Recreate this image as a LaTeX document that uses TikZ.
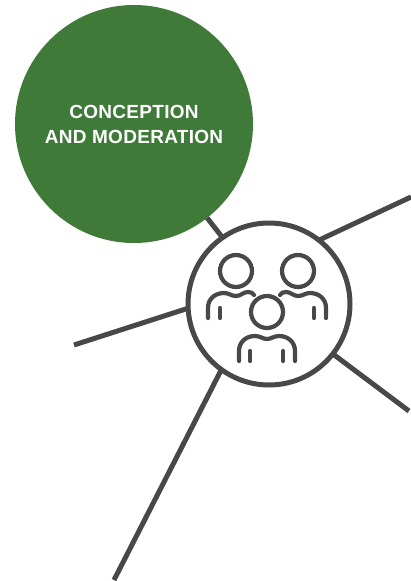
\documentclass[tikz,border=0pt]{standalone}
\usepackage{fontspec}
\setsansfont{Liberation Sans}
\definecolor{LeafGreen}{HTML}{3F7A38}
\definecolor{SlateInk}{HTML}{484848}
\newcommand{\DisplayFont}{\sffamily\bfseries\addfontfeature{LetterSpace=1.5}}
\tikzset{
  spoke/.style={SlateInk, line width=5pt},
  icon/.style={SlateInk, line width=4.2pt, line cap=round},
  hubring/.style={circle, draw=SlateInk, line width=5pt, fill=white, inner sep=0pt, outer sep=0pt, minimum size=162pt},
  greendisc/.style={circle, fill=LeafGreen, inner sep=0pt, outer sep=0pt, minimum size=238pt},
  disclabel/.style={text=white, align=center, font={\DisplayFont\fontsize{19pt}{25pt}\selectfont}},
  headring/.style={circle, draw=SlateInk, line width=4.2pt, inner sep=0pt, outer sep=0pt, minimum size=32pt}
}
\begin{document}
\begin{tikzpicture}[x=1pt, y=-1pt]
  \useasboundingbox (0,0) rectangle (411,581);
  % hub and the big disc
  \node[hubring] (hub) at (269,304) {};
  \node[greendisc] (conception) at (134,124) {};
  \node[disclabel] (conceptionlabel) at (134,124) {CONCEPTION\\AND MODERATION};
  % free ends
  \coordinate (endright) at (411,197);
  \coordinate (endleft) at (74,345);
  \coordinate (endlower) at (409,411);
  \coordinate (endbottom) at (114,580);
  % spokes
  \draw[spoke] (conception) -- (hub.125);
  \draw[spoke] (hub.52) -- (endright);
  \draw[spoke] (hub.183) -- (endleft);
  \draw[spoke] (hub.-38) -- (endlower);
  \draw[spoke] (hub.234) -- (endbottom);
  % heads
  \node[headring] (headleft) at (236,271) {};
  \node[headring] (headright) at (298,271) {};
  \node[headring] (headfront) at (267,312) {};
  % shoulders
  \draw[icon] (208,318) -- (208,308) .. controls (208,298) and (216,293) .. (224,293)
    .. controls (229,293) and (231,296) .. (236,296) .. controls (241,296) and (243,292) .. (248,292) .. controls (251,292) and (253,293) .. (254,295);
  \draw[icon] (326,318) -- (326,308) .. controls (326,298) and (318,293) .. (310,293)
    .. controls (305,293) and (303,296) .. (298,296) .. controls (293,296) and (291,292) .. (286,292) .. controls (283,292) and (281,293) .. (280,295);
  \draw[icon] (239,361) -- (239,351) .. controls (239,342) and (246,336) .. (255,336)
    .. controls (260,336) and (263,339) .. (267,339) .. controls (271,339) and (274,336) .. (279,336)
    .. controls (288,336) and (295,342) .. (295,351) -- (295,361);
  % arms
  \draw[icon] (220,308) -- (220,318);
  \draw[icon] (314,308) -- (314,318);
  \draw[icon] (250,351) -- (250,361);
  \draw[icon] (283,351) -- (283,361);
\end{tikzpicture}
\end{document}
